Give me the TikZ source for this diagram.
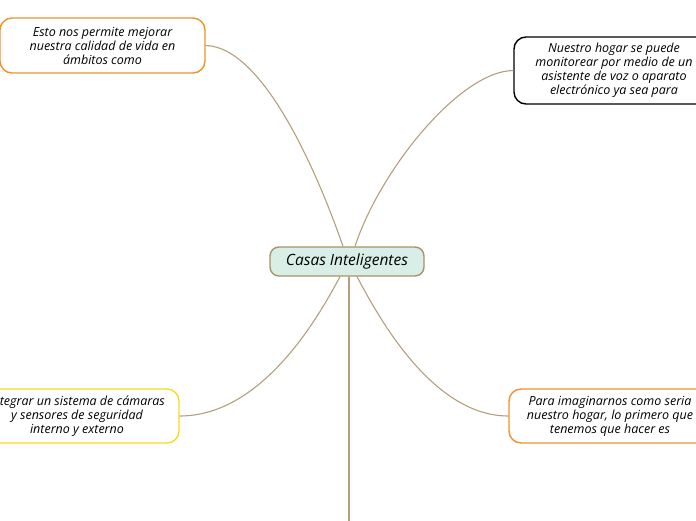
\documentclass[tikz,border=0pt]{standalone}
\usepackage{fontspec}
\setmainfont{Open Sans}
\usetikzlibrary{calc}
\definecolor{orng}{HTML}{F0922B}
\definecolor{yel}{HTML}{F5DE1E}
\definecolor{tan}{HTML}{A89366}
\definecolor{conn}{HTML}{B3A07A}
\definecolor{teal}{HTML}{D8EEE7}
\tikzset{
  child/.style={draw, line width=1.4pt, rounded corners=12pt, fill=white,
    align=center, inner sep=0pt,
    font=\fontsize{12.5}{14}\selectfont\itshape},
  central/.style={draw=tan, fill=teal, line width=1.4pt, rounded corners=9pt,
    minimum width=154pt, minimum height=29pt, inner sep=0pt,
    font=\fontsize{15.5}{17}\selectfont\itshape},
  link/.style={draw=conn, line width=1.1pt},
}
\begin{document}
\begin{tikzpicture}[x=1pt,y=-1pt]
\useasboundingbox (0,0) rectangle (696,520);
\clip (0,0) rectangle (696,520);
\node[central] (c) at (347,261.5) {Casas Inteligentes};
\node[child, draw=orng, minimum width=205pt, minimum height=55pt] (tl) at (102.5,45.5)
  {Esto nos permite mejorar\\nuestra calidad de vida en\\ámbitos como};
\node[child, draw=black, minimum width=200pt, minimum height=67pt] (tr) at (614,70.5)
  {Nuestro hogar se puede\\monitorear por medio de un\\asistente de voz o aparato\\electrónico ya sea para};
\node[child, draw=yel, minimum width=204pt, minimum height=54pt] (bl) at (77,416)
  {Integrar un sistema de cámaras\\y sensores de seguridad\\interno y externo};
\node[child, draw=orng, minimum width=202pt, minimum height=54pt] (br) at (610,416)
  {Para imaginarnos como seria\\nuestro hogar, lo primero que\\tenemos que hacer es};
\coordinate (bottom) at (349,530);
\path[link] ($(c.north)+(-4,0)$) .. controls (320,180) and (265,47) .. (tl.east);
\path[link] ($(c.north)+(8,0)$) .. controls (380,170) and (460,71) .. (tr.west);
\path[link] ($(c.south)+(-7,0)$) .. controls (322,310) and (265,416) .. (bl.east);
\path[link] ($(c.south)+(10,0)$) .. controls (375,310) and (430,416) .. (br.west);
\path[link] ($(c.south)+(2,0)$) -- (bottom);
\end{tikzpicture}
\end{document}
